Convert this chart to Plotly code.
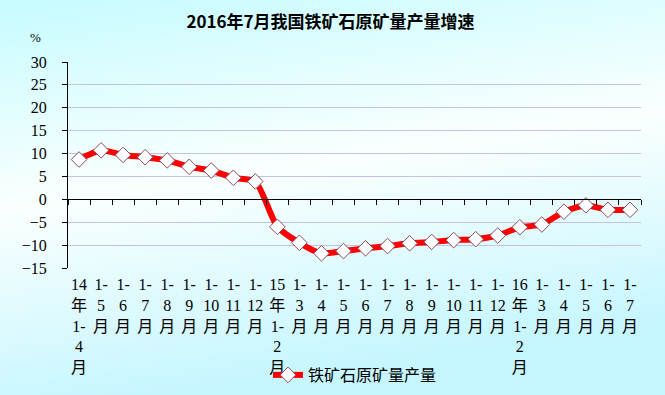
import base64
import plotly.graph_objects as go

title_text = "2016年7月我国铁矿石原矿量产量增速"
series_name = "铁矿石原矿量产量"
categories = [
    "14<br>年<br>1-<br>4<br>月", "1-<br>5<br>月", "1-<br>6<br>月", "1-<br>7<br>月",
    "1-<br>8<br>月", "1-<br>9<br>月", "1-<br>10<br>月", "1-<br>11<br>月", "1-<br>12<br>月",
    "15<br>年<br>1-<br>2<br>月", "1-<br>3<br>月", "1-<br>4<br>月", "1-<br>5<br>月",
    "1-<br>6<br>月", "1-<br>7<br>月", "1-<br>8<br>月", "1-<br>9<br>月", "1-<br>10<br>月",
    "1-<br>11<br>月", "1-<br>12<br>月",
    "16<br>年<br>1-<br>2<br>月", "1-<br>3<br>月", "1-<br>4<br>月", "1-<br>5<br>月",
    "1-<br>6<br>月", "1-<br>7<br>月",
]
growth = [8.7, 10.7, 9.7, 9.2, 8.5, 7.1, 6.3, 4.7, 3.9,
          -6.0, -9.5, -11.8, -11.3, -10.7, -10.2, -9.6, -9.3, -8.9, -8.7, -7.9,
          -6.1, -5.5, -2.7, -1.3, -2.3, -2.3]
y_min, y_max, y_step = -15, 30, 5

n = len(categories)
boundaries = [i - 0.5 for i in range(n + 1)]

W, H = 665, 395
ml, mr, mt, mb = 68, 24, 62, 127
pw, ph = W - ml - mr, H - mt - mb

svg = f'''<svg xmlns="http://www.w3.org/2000/svg" width="{W}" height="{H}" preserveAspectRatio="none">
<defs><linearGradient id="g" x1="0" y1="0" x2="0.25" y2="1">
<stop offset="0" stop-color="#c6fbff"/><stop offset="0.5" stop-color="#fafffe"/><stop offset="1" stop-color="#c6f6ff"/>
</linearGradient></defs><rect width="{W}" height="{H}" fill="url(#g)"/></svg>'''
bg = "data:image/svg+xml;base64," + base64.b64encode(svg.encode()).decode()

fig = go.Figure()
fig.add_trace(go.Scatter(
    x=list(range(n)), y=growth, name=series_name, mode="lines+markers",
    line=dict(color="#ff0000", width=6, shape="spline", smoothing=0.6),
    marker=dict(symbol="diamond", size=12, color="white",
                line=dict(color="#8a4a5a", width=1)),
))
fig.add_trace(go.Scatter(x=[0], y=[0], xaxis="x2", mode="markers",
                         marker=dict(opacity=0), showlegend=False, hoverinfo="skip"))

fig.update_layout(
    width=W, height=H,
    margin=dict(l=ml, r=mr, t=mt, b=mb, autoexpand=False),
    paper_bgcolor="#dffcff", plot_bgcolor="rgba(0,0,0,0)",
    images=[dict(source=bg, xref="paper", yref="paper",
                 x=-ml / pw, y=1 + mt / ph, sizex=W / pw, sizey=H / ph,
                 xanchor="left", yanchor="top", sizing="stretch", layer="below")],
    title=dict(text="<b>" + title_text + "</b>", x=0.497, xanchor="center",
               y=1 - 22 / H, yanchor="middle",
               font=dict(family="Noto Sans CJK SC", size=17, color="black")),
    xaxis=dict(range=[-0.5, n - 0.5], tickvals=list(range(n)), ticktext=categories,
               showgrid=False, zeroline=False, showline=False, ticks="",
               ticklabelstandoff=5,
               tickfont=dict(family="Liberation Serif, Noto Sans CJK SC", size=16, color="black")),
    xaxis2=dict(range=[-0.5, n - 0.5], overlaying="x", anchor="free",
                position=(0 - y_min) / (y_max - y_min),
                tickvals=boundaries, ticks="outside", ticklen=5, tickcolor="black",
                showticklabels=False, showgrid=False, zeroline=False,
                showline=True, linecolor="black", linewidth=1),
    yaxis=dict(range=[y_min, y_max], dtick=y_step, tick0=0,
               showgrid=True, gridcolor="#c4c4e2", gridwidth=1,
               zeroline=False, showline=True, linecolor="black", linewidth=1,
               ticks="outside", ticklen=5, tickcolor="black", ticklabelstandoff=12,
               tickfont=dict(family="Liberation Serif", size=16, color="black")),
    legend=dict(orientation="h", xref="paper", yref="paper",
                x=(268 - ml) / pw, xanchor="left",
                y=-(375 - mt - ph) / ph, yanchor="middle",
                bgcolor="rgba(0,0,0,0)",
                font=dict(family="Noto Sans CJK SC", size=16, color="black")),
    annotations=[dict(text="%", xref="paper", yref="paper",
                      x=(35 - ml) / pw, y=1 + (mt - 37) / ph,
                      xanchor="center", yanchor="middle", showarrow=False,
                      font=dict(family="Liberation Serif", size=13, color="black"))],
    showlegend=True,
)

fig.write_html("out.html", config={"displayModeBar": False},
               post_script="document.body.style.margin='0px';document.body.style.background='#dffcff';")
